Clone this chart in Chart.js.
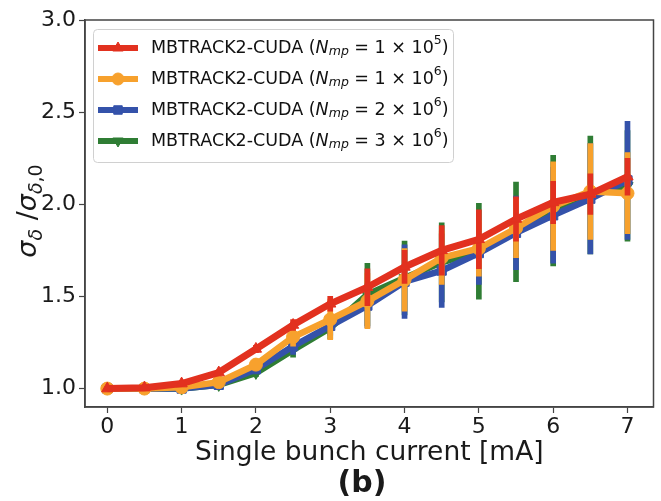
<!DOCTYPE html>
<html>
<head>
    <meta charset="utf-8">
    <title>Energy spread vs single bunch current</title>
    <script src="https://cdn.jsdelivr.net/npm/chart.js"></script>
    <style>
        body { margin: 0; background: #fff; }
    </style>
</head>
<body>
<canvas id="chart" width="661" height="501"></canvas>

<script>
    // single bunch current [mA]
    const currents = [0, 0.5, 1, 1.5, 2, 2.5, 3, 3.5, 4, 4.5, 5, 5.5, 6, 6.5, 7];
    const xTicks = [0, 1, 2, 3, 4, 5, 6, 7];
    const yTicks = [1.0, 1.5, 2.0, 2.5, 3.0];

    // sigma_delta / sigma_delta0, and error bar half lengths
    const np1e5 = [1.0, 1.005, 1.027, 1.087, 1.215, 1.345, 1.46, 1.55, 1.66, 1.75, 1.81, 1.92, 2.01, 2.055, 2.15];
    const np1e5Err = [0.01, 0.01, 0.01, 0.01, 0.02, 0.03, 0.04, 0.10, 0.09, 0.135, 0.16, 0.12, 0.115, 0.11, 0.10];
    const np1e6 = [1.0, 1.0, 1.007, 1.035, 1.13, 1.28, 1.375, 1.475, 1.59, 1.71, 1.76, 1.87, 1.99, 2.07, 2.06];
    const np1e6Err = [0.01, 0.01, 0.01, 0.01, 0.02, 0.05, 0.11, 0.15, 0.17, 0.145, 0.15, 0.16, 0.24, 0.26, 0.22];
    const np2e6 = [1.0, 1.0, 1.0, 1.02, 1.105, 1.23, 1.34, 1.45, 1.58, 1.64, 1.735, 1.845, 1.94, 2.03, 2.13];
    const np2e6Err = [0.01, 0.01, 0.01, 0.01, 0.02, 0.045, 0.05, 0.12, 0.20, 0.20, 0.17, 0.20, 0.26, 0.30, 0.32];
    const np3e6 = [1.0, 1.0, 1.0, 1.02, 1.085, 1.21, 1.33, 1.51, 1.60, 1.685, 1.745, 1.85, 1.965, 2.05, 2.10];
    const np3e6Err = [0.01, 0.01, 0.01, 0.01, 0.02, 0.04, 0.06, 0.17, 0.20, 0.215, 0.26, 0.27, 0.30, 0.32, 0.30];

    const legendMant = ['1', '1', '2', '3'];
    const legendExp = ['5', '6', '6', '6'];

    const RED = '#e2311f', ORANGE = '#f7a12d', BLUE = '#3452aa', GREEN = '#2f7d34';
    const FONT = "'DejaVu Sans', sans-serif";

    function lineSet(label, vals, color, style, rot, width, order) {
        return {
            type: 'line', label: label,
            data: currents.map((x, i) => ({x: x, y: vals[i]})),
            borderColor: color, backgroundColor: color,
            borderWidth: width, tension: 0,
            pointStyle: style, pointRotation: rot, pointRadius: 6.5,
            pointBorderWidth: 1, pointHoverRadius: 6.5,
            order: order
        };
    }

    function errSet(vals, errs, color, order) {
        return {
            type: 'bar',
            data: currents.map((x, i) => ({x: x, y: [vals[i] - errs[i], vals[i] + errs[i]]})),
            backgroundColor: color, borderWidth: 0,
            barThickness: 5, grouped: false,
            order: order
        };
    }

    const lines = [
        lineSet('1e5', np1e5, RED, 'triangle', 0, 7, 0),
        lineSet('1e6', np1e6, ORANGE, 'circle', 0, 6.5, 2),
        lineSet('2e6', np2e6, BLUE, 'rect', 0, 6.5, 4),
        lineSet('3e6', np3e6, GREEN, 'triangle', 180, 6.5, 6)
    ];

    const extras = {
        id: 'extras',
        afterDraw(chart) {
            const ctx = chart.ctx;
            const a = chart.chartArea;
            ctx.save();

            // top and right spines
            ctx.strokeStyle = '#444';
            ctx.lineWidth = 1.5;
            ctx.strokeRect(a.left, a.top, a.right - a.left, a.bottom - a.top);

            ctx.fillStyle = '#1a1a1a';
            // x label
            ctx.font = '26.5px ' + FONT;
            ctx.textAlign = 'center';
            ctx.textBaseline = 'alphabetic';
            ctx.fillText('Single bunch current [mA]', (a.left + a.right) / 2, 460);

            // panel tag
            ctx.font = 'bold 30px ' + FONT;
            ctx.fillText('(b)', 362, 492);

            // y label with subscripts
            const big = 'italic 27px ' + FONT, small = 'italic 19px ' + FONT, smallUp = '19px ' + FONT, reg = '27px ' + FONT;
            const parts = [
                ['σ', big, 0], ['δ', small, 6], [' /', reg, 0], ['σ', big, 0], ['δ', small, 6], [',0', smallUp, 6]
            ];
            let total = 0;
            parts.forEach(p => { ctx.font = p[1]; total += ctx.measureText(p[0]).width; });
            ctx.translate(36, 211);
            ctx.rotate(-Math.PI / 2);
            ctx.textAlign = 'left';
            let cx = -total / 2;
            parts.forEach(p => {
                ctx.font = p[1];
                ctx.fillText(p[0], cx, p[2]);
                cx += ctx.measureText(p[0]).width;
            });
            ctx.restore();

            // legend
            ctx.save();
            const bx = 93, by = 29, bw = 360, bh = 133;
            ctx.fillStyle = 'rgba(255,255,255,0.85)';
            ctx.strokeStyle = '#d0d0d0';
            ctx.lineWidth = 1;
            ctx.beginPath();
            ctx.roundRect(bx + 0.5, by + 0.5, bw, bh, 4);
            ctx.fill();
            ctx.stroke();

            lines.forEach((ds, i) => {
                const y = 48 + i * 31;
                ctx.strokeStyle = ds.borderColor;
                ctx.fillStyle = ds.backgroundColor;
                ctx.lineWidth = 6;
                ctx.beginPath();
                ctx.moveTo(98, y);
                ctx.lineTo(138, y);
                ctx.stroke();
                ctx.lineWidth = 1;
                Chart.helpers.drawPoint(ctx, {pointStyle: ds.pointStyle, rotation: ds.pointRotation, radius: 6, borderWidth: 1}, 118, y);

                ctx.fillStyle = '#111';
                ctx.textBaseline = 'middle';
                let tx = 151;
                const seg = (t, f, dy) => {
                    ctx.font = f;
                    ctx.fillText(t, tx, y + dy);
                    tx += ctx.measureText(t).width;
                };
                seg('MBTRACK2-CUDA (', '17.5px ' + FONT, 0);
                seg('N', 'italic 17.5px ' + FONT, 0);
                seg('mp', 'italic 12.5px ' + FONT, 4);
                seg(' = ' + legendMant[i] + ' × 10', '17.5px ' + FONT, 0);
                seg(legendExp[i], '12.5px ' + FONT, -7);
                seg(')', '17.5px ' + FONT, 0);
            });
            ctx.restore();
        }
    };

    const tickFont = {family: FONT, size: 22};

    new Chart(document.getElementById('chart').getContext('2d'), {
        type: 'line',
        data: {
            datasets: [
                lines[0], errSet(np1e5, np1e5Err, RED, 1),
                lines[1], errSet(np1e6, np1e6Err, ORANGE, 3),
                lines[2], errSet(np2e6, np2e6Err, BLUE, 5),
                lines[3], errSet(np3e6, np3e6Err, GREEN, 7)
            ]
        },
        options: {
            responsive: false,
            animation: false,
            devicePixelRatio: 1,
            layout: {padding: {top: 20, right: 2, left: 0, bottom: 0}},
            plugins: {legend: {display: false}, tooltip: {enabled: false}},
            scales: {
                x: {
                    type: 'linear', min: -0.3, max: 7.35, offset: false,
                    afterBuildTicks: s => { s.ticks = xTicks.map(v => ({value: v})); },
                    afterFit: s => { s.height = 94; },
                    ticks: {font: tickFont, color: '#1a1a1a', padding: 1, maxRotation: 0, autoSkip: false,
                        callback: v => String(v)},
                    grid: {offset: false, drawOnChartArea: false, drawTicks: true, tickLength: 6, color: '#444', tickWidth: 1.2},
                    border: {color: '#444', width: 1.5}
                },
                y: {
                    type: 'linear', min: 0.9, max: 3.0,
                    afterBuildTicks: s => { s.ticks = yTicks.map(v => ({value: v})); },
                    afterFit: s => { s.width = 85; },
                    ticks: {font: tickFont, color: '#1a1a1a', padding: 3,
                        callback: v => v.toFixed(1)},
                    grid: {offset: false, drawOnChartArea: false, drawTicks: true, tickLength: 6, color: '#444', tickWidth: 1.2},
                    border: {color: '#444', width: 1.5}
                }
            }
        },
        plugins: [extras]
    });
</script>
</body>
</html>
